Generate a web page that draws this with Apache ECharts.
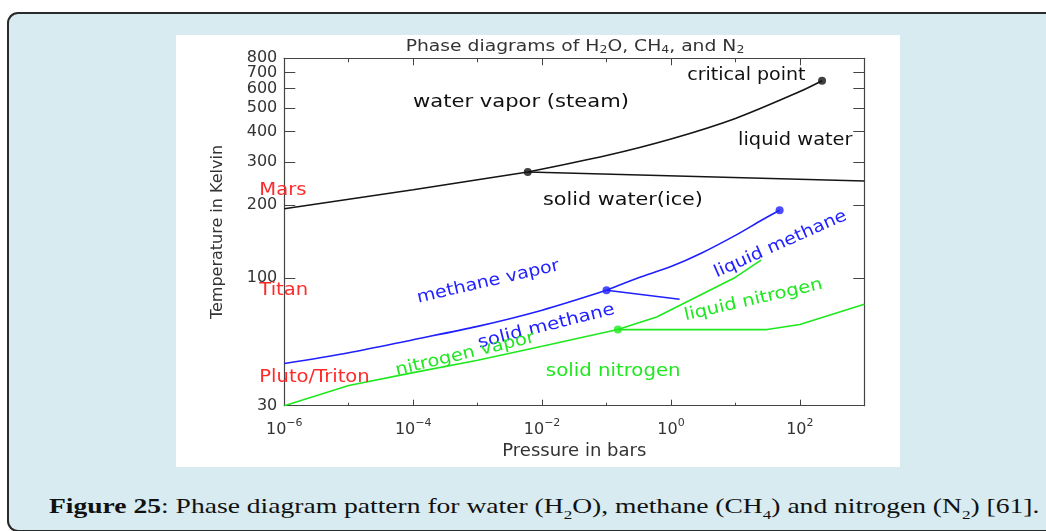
<!DOCTYPE html>
<html>
<head>
<meta charset="utf-8">
<script src="https://cdn.jsdelivr.net/npm/echarts@6/dist/echarts.min.js"></script>
<style>
  html, body { margin: 0; padding: 0; width: 1046px; height: 531px; overflow: hidden; background: #fff; }
  .frame {
    position: absolute; left: 7px; top: 12px; width: 1100px; height: 516px;
    background: #d7ebf0; border: 2px solid #2a2a2a; border-right: none;
    border-radius: 11px 0 0 11px;
  }
  #chart { position: absolute; left: 176px; top: 35px; width: 724px; height: 432px; background: #fff; }
  .caption {
    position: absolute; left: 49px; top: 495px; white-space: nowrap;
    font-family: "Liberation Serif", serif; font-size: 21px; line-height: 22px; color: #111;
    transform-origin: 0 0;
  }
  .caption sub { font-size: 13px; vertical-align: -6px; line-height: 0; }
</style>
</head>
<body>
<div class="frame"></div>
<div id="chart"></div>
<div class="caption" id="cap"><b>Figure 25</b>: Phase diagram pattern for water (H<sub>2</sub>O), methane (CH<sub>4</sub>) and nitrogen (N<sub>2</sub>) [61].</div>
<script>
  // pressure in bar, temperature in K
  var waterSubP = [1e-6, 1e-5, 1e-4, 1e-3, 0.006]
  var waterSubT = [193, 211, 231, 254, 273]
  var waterVapP = [0.006, 0.1, 1, 10, 100, 221]
  var waterVapT = [273, 319, 373, 453, 584, 647]
  var waterMeltP = [0.006, 1000]
  var waterMeltT = [273, 251]

  var methSubP = [1e-6, 1e-5, 1e-4, 1e-3, 1e-2, 0.1]
  var methSubT = [44.7, 49.5, 56, 63.5, 74, 89.3]
  var methVapP = [0.1, 0.3, 1, 3, 10, 25, 48.5]
  var methVapT = [89.3, 100, 111.7, 127, 150, 172.6, 190.4]
  var methMeltP = [0.1, 1.36]
  var methMeltT = [89.3, 82]

  var nitSubP = [1e-6, 1e-5, 1e-4, 1e-3, 1e-2, 0.15]
  var nitSubT = [30, 36.3, 41, 46.1, 52.6, 61.6]
  var nitVapP = [0.15, 0.6, 9.4, 25]
  var nitVapT = [61.6, 69.4, 100, 118.7]
  var nitMeltP = [0.15, 31, 100, 1000]
  var nitMeltT = [61.6, 61.6, 64.6, 78.2]

  // triple and critical points
  var waterDotP = [0.006, 221]
  var waterDotT = [273, 647]
  var methDotP = [0.1, 48.5]
  var methDotT = [89.3, 190.4]
  var nitDotP = [0.15]
  var nitDotT = [61.6]

  var xMajor = [1e-6, 1e-4, 1e-2, 1, 100]
  var xMinor = [1e-5, 1e-3, 1e-1, 10, 1000]
  var yTicks = [30, 100, 200, 300, 400, 500, 600, 700]
  // 800 sits on the axis end (a hair below so rounding keeps it) and overlaps 700
  var yTop = [799.99]

  // text, pressure, temperature, colour, angle (deg), stretch
  var notes = [
    ['critical point', 14.8, 677, '#111', 0, 1.12],
    ['water vapor (steam)', 4.7e-3, 524, '#111', 0, 1.24],
    ['liquid water', 85, 366, '#111', 0, 1.14],
    ['solid water(ice)', 0.18, 208, '#111', 0, 1.22],
    ['methane vapor', 1.46e-3, 96.6, '#1f1fff', 13, 1.12],
    ['solid methane', 0.0116, 63.5, '#1f1fff', 14, 1.16],
    ['liquid methane', 50, 138, '#1f1fff', 24, 1.12],
    ['nitrogen vapor', 6.4e-4, 48.8, '#1ee81e', 13.5, 1.14],
    ['liquid nitrogen', 19, 81.4, '#1ee81e', 13, 1.15],
    ['solid nitrogen', 0.127, 41.6, '#1ee81e', 0, 1.16]
  ]
  var places = [['Mars', 230], ['Titan', 89.3], ['Pluto/Triton', 39.2]]

  var FONT = '"DejaVu Sans", sans-serif'

  function pairs(p, t) { return p.map(function (v, i) { return [v, t[i]] }) }

  function line(p, t, color, smooth) {
    return {
      type: 'line', data: pairs(p, t), showSymbol: false, smooth: smooth || false,
      lineStyle: { color: color, width: 1.6 }, silent: true
    }
  }
  function dots(p, t, color) {
    return {
      type: 'scatter', data: pairs(p, t), symbolSize: 8, z: 5,
      itemStyle: { color: color }, silent: true
    }
  }

  function logAxis(pos, ticks, len, showLine, showLabel) {
    return {
      type: 'log', logBase: 10, min: 1e-6, max: 1e3, position: pos,
      axisLine: { show: showLine, lineStyle: { color: '#444', width: 1.2 } },
      axisTick: { show: true, inside: true, length: len, customValues: ticks, lineStyle: { color: '#444' } },
      axisLabel: { show: showLabel },
      splitLine: { show: false }, minorTick: { show: false }
    }
  }

  var chart = echarts.init(document.getElementById('chart'), null, { renderer: 'canvas' })

  var xBottom = logAxis('bottom', xMajor, 6, true, true)
  xBottom.axisLabel = {
    customValues: xMajor, margin: 12, showMinLabel: true, showMaxLabel: true,
    formatter: function (v) {
      var e = Math.round(Math.log10(v))
      return '{b|10}{s|' + (e < 0 ? '\u2212' : '') + Math.abs(e) + '}'
    },
    rich: {
      b: { fontSize: 16, fontFamily: FONT, color: '#333', lineHeight: 20, verticalAlign: 'bottom' },
      s: { fontSize: 11, fontFamily: FONT, color: '#333', lineHeight: 11, verticalAlign: 'top' }
    }
  }
  xBottom.name = 'Pressure in bars'
  xBottom.nameLocation = 'middle'
  xBottom.nameGap = 36
  xBottom.nameTextStyle = { fontSize: 18, fontFamily: FONT, color: '#333' }

  function yAxis(pos, showLabel) {
    return {
      type: 'log', logBase: 10, min: 30, max: 800, position: pos,
      axisLine: { show: true, lineStyle: { color: '#444', width: 1.2 } },
      axisTick: { show: true, inside: true, length: 11, customValues: yTicks, lineStyle: { color: '#444' } },
      axisLabel: {
        show: showLabel, customValues: yTicks, margin: 7,
        showMinLabel: true, showMaxLabel: true,
        fontSize: 16, fontFamily: FONT, color: '#333',
        formatter: function (v) { return Math.round(v) }
      },
      splitLine: { show: false }, minorTick: { show: false }
    }
  }
  var yLeft = yAxis('left', true)
  yLeft.name = 'Temperature in Kelvin'
  yLeft.nameLocation = 'middle'
  yLeft.nameGap = 58
  yLeft.nameTextStyle = { fontSize: 16, fontFamily: FONT, color: '#333' }

  // separate label-only axis for the top value, so it may overlap 700 as in the figure
  var yTopAxis = yAxis('left', true)
  yTopAxis.axisLine = { show: false }
  yTopAxis.axisTick = { show: false }
  yTopAxis.axisLabel.customValues = yTop
  yTopAxis.axisLabel.padding = [9, 0, 0, 0]

  chart.setOption({
    animation: false,
    grid: { left: 108.3, top: 23.3, width: 580, height: 347.4, containLabel: false },
    xAxis: [
      xBottom,
      logAxis('bottom', xMinor, 3, false, false),
      logAxis('top', xMajor, 7, true, false),
      logAxis('top', xMinor, 4, false, false)
    ],
    yAxis: [yLeft, yAxis('right', false), yTopAxis],
    series: [
      line(waterSubP, waterSubT, '#151515'),
      line(waterVapP, waterVapT, '#151515', 0.3),
      line(waterMeltP, waterMeltT, '#151515'),
      line(methSubP, methSubT, '#1f1fff', 0.3),
      line(methVapP, methVapT, '#1f1fff', 0.3),
      line(methMeltP, methMeltT, '#1f1fff'),
      line(nitSubP, nitSubT, '#1ee81e'),
      line(nitVapP, nitVapT, '#1ee81e'),
      line(nitMeltP, nitMeltT, '#1ee81e'),
      dots(waterDotP, waterDotT, '#111'),
      dots(methDotP, methDotT, '#1f1fff'),
      dots(nitDotP, nitDotT, '#1ee81e')
    ]
  })

  // annotations placed in data space through the chart's own axes
  var graphics = [{
    type: 'text', x: 399, y: 12, scaleX: 1.25,
    style: {
      text: 'Phase diagrams of H{s|2}O, CH{s|4}, and N{s|2}',
      font: '15px ' + FONT, fill: '#333', align: 'center', verticalAlign: 'middle',
      rich: { s: { fontSize: 10, fontFamily: FONT, fill: '#333', padding: [7, 0, 0, 0] } }
    }
  }]
  notes.forEach(function (n) {
    var pt = chart.convertToPixel({ xAxisIndex: 0, yAxisIndex: 0 }, [n[1], n[2]])
    graphics.push({
      type: 'text', x: pt[0], y: pt[1], rotation: n[4] * Math.PI / 180, scaleX: n[5],
      style: { text: n[0], font: '17px ' + FONT, fill: n[3], align: 'center', verticalAlign: 'middle' }
    })
  })
  places.forEach(function (p) {
    var pt = chart.convertToPixel({ xAxisIndex: 0, yAxisIndex: 0 }, [1e-6, p[1]])
    graphics.push({
      type: 'text', x: pt[0] - 25, y: pt[1], scaleX: 1.15, z: 10,
      style: { text: p[0], font: '17px ' + FONT, fill: '#ff2a2a', align: 'left', verticalAlign: 'middle' }
    })
  })
  chart.setOption({ graphic: graphics })

  // stretch the caption to the width it takes in the figure
  var cap = document.getElementById('cap')
  cap.style.transform = 'scaleX(' + (991 / cap.offsetWidth) + ')'
</script>
</body>
</html>
